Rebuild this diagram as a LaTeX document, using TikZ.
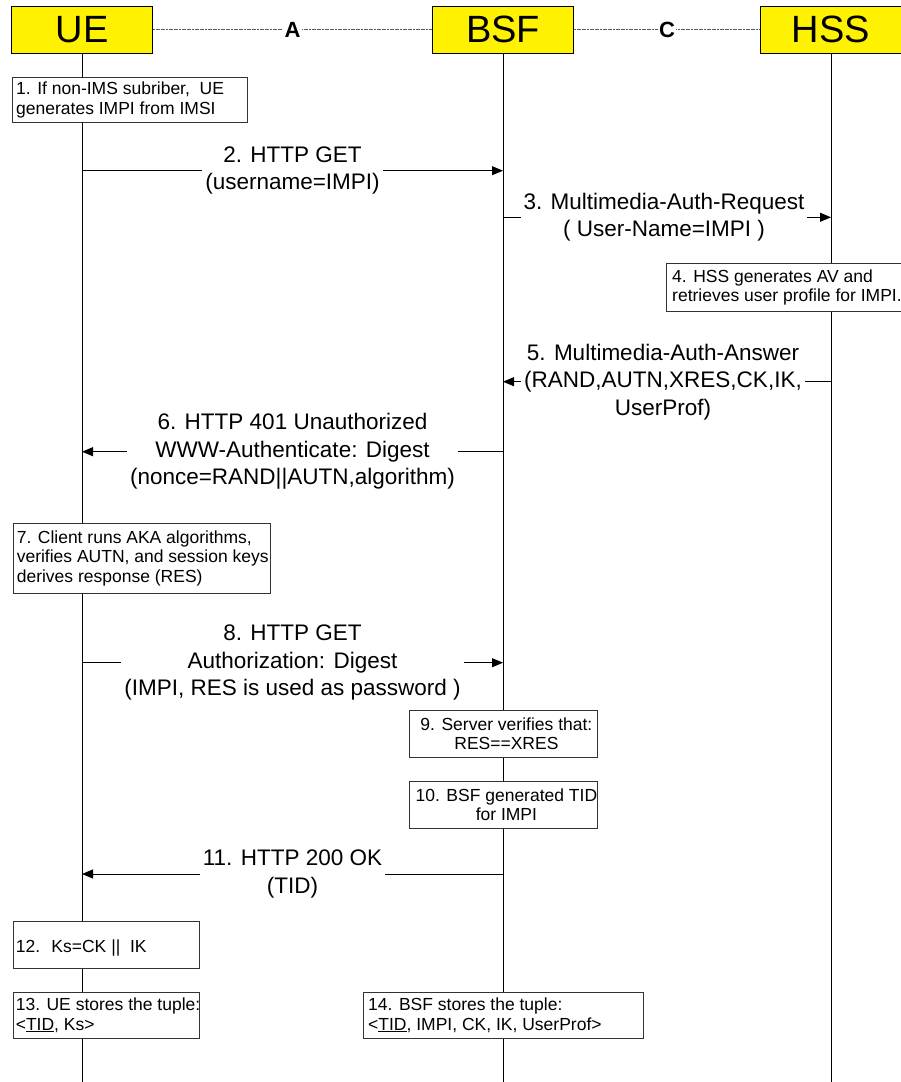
\documentclass[tikz,border=0pt]{standalone}
\usepackage{fontspec}
\setmainfont{Liberation Sans}
\usetikzlibrary{arrows.meta}
\begin{document}
\begin{tikzpicture}[x=1pt,y=-1pt,
  hdr/.style={draw=black, line width=0.8pt, fill=yellow, minimum width=141pt, minimum height=47pt, inner sep=0pt, font=\fontsize{38}{40}\selectfont},
  life/.style={line width=0.9pt, black},
  iface/.style={draw=black!65, line width=0.8pt, dash pattern=on 2pt off 0.6pt},
  ifl/.style={fill=white, inner sep=1.5pt, font=\fontsize{22}{24}\selectfont\bfseries},
  msg/.style={line width=0.9pt, -{Triangle[length=11pt,width=9pt]}},
  lbl/.style={fill=white, align=center, inner xsep=3pt, inner ysep=0pt, font=\fontsize{22.5}{27.5}\selectfont},
  note/.style={draw=black!80, line width=0.8pt, fill=white, inner sep=0pt, anchor=north west},
  ntxt/.style={align=left, inner sep=0pt, anchor=west, font=\fontsize{17.5}{19.5}\selectfont},
  ctxt/.style={align=center, inner sep=0pt, font=\fontsize{17.5}{18.5}\selectfont},
]
\useasboundingbox (0,0) rectangle (900,1082);
\fill[white] (0,0) rectangle (900,1082);

% headers
\node[hdr] (ue) at (82,29.5) {UE};
\node[hdr] (bsf) at (503,29.5) {BSF};
\node[hdr] (hss) at (831,29.5) {HSS};

% lifelines
\coordinate (ueB) at (82,1082);
\coordinate (bsfB) at (503,1082);
\coordinate (hssB) at (831,1082);
\draw[life] (ue.south) -- (ueB);
\draw[life] (bsf.south) -- (bsfB);
\draw[life] (hss.south) -- (hssB);

% interfaces
\draw[iface] (ue.east) -- (bsf.west) node[midway, ifl] (ifA) {A};
\draw[iface] (bsf.east) -- (hss.west) node[midway, ifl] (ifC) {C};

% box 1
\node[note, minimum width=235pt, minimum height=45pt] (b1) at (12,77) {};
\node[ntxt] (t1) at ([xshift=4pt]b1.west) {1. If non-IMS subriber,~ UE\\generates IMPI from IMSI};

% message 2
\coordinate (m2a) at (82,170.7);
\coordinate (m2b) at (503,170.7);
\draw[msg] (m2a) -- (m2b) node[midway, lbl] (l2) {2. HTTP GET\\(username=IMPI)};

% message 3
\coordinate (m3a) at (503,217.3);
\coordinate (m3b) at (831,217.3);
\draw[msg] (m3a) -- (m3b) node[midway, lbl, xshift=-3pt] (l3) {3. Multimedia-Auth-Request\\( User-Name=IMPI )};

% box 4
\node[note, minimum width=240pt, minimum height=48pt] (b4) at (666,263) {};
\node[ntxt] (t4) at ([xshift=6pt]b4.west) {4. HSS generates AV and\\retrieves user profile for IMPI.};

% message 5
\coordinate (m5a) at (831,381.7);
\coordinate (m5b) at (503,381.7);
\draw[msg] (m5a) -- (m5b) node[midway, lbl, xshift=-4pt] (l5) {5. Multimedia-Auth-Answer\\(RAND,AUTN,XRES,CK,IK,\\UserProf)};

% message 6
\coordinate (m6a) at (503,451.7);
\coordinate (m6b) at (82,451.7);
\draw[msg] (m6a) -- (m6b) node[midway, lbl] (l6) {6. HTTP 401 Unauthorized\\WWW-Authenticate: Digest\\(nonce=RAND||AUTN,algorithm)};

% box 7
\node[note, minimum width=257.4pt, minimum height=70.3pt] (b7) at (12.6,522.7) {};
\node[ntxt] (t7) at ([xshift=4pt]b7.west) {7. Client runs AKA algorithms,\\verifies AUTN, and session keys\\derives response (RES)};

% message 8
\coordinate (m8a) at (82,662.7);
\coordinate (m8b) at (503,662.7);
\draw[msg] (m8a) -- (m8b) node[midway, lbl] (l8) {8. HTTP GET\\Authorization: Digest\\(IMPI, RES is used as password )};

% box 9
\node[note, minimum width=188pt, minimum height=46.7pt] (b9) at (409,710) {};
\node[ctxt] (t9) at ([xshift=3pt]b9.center) {9. Server verifies that:\\RES==XRES};

% box 10
\node[note, minimum width=188pt, minimum height=47pt] (b10) at (409,780.7) {};
\node[ctxt] (t10) at ([xshift=3pt]b10.center) {10. BSF generated TID\\for IMPI};

% message 11
\coordinate (m11a) at (503,874);
\coordinate (m11b) at (82,874);
\draw[msg] (m11a) -- (m11b) node[midway, lbl] (l11) {11. HTTP 200 OK\\(TID)};

% box 12
\node[note, minimum width=186.4pt, minimum height=46.7pt] (b12) at (12.6,921) {};
\node[ntxt] (t12) at ([xshift=3pt,yshift=-3pt]b12.west) {12.~ Ks=CK ||~ IK};

% box 13
\node[note, minimum width=186.4pt, minimum height=46.3pt] (b13) at (12.6,991.7) {};
\node[ntxt] (t13) at ([xshift=3pt]b13.west) {13. UE stores the tuple:\\<\underline{TID}, Ks>};

% box 14
\node[note, minimum width=280pt, minimum height=46.3pt] (b14) at (363,991.7) {};
\node[ntxt] (t14) at ([xshift=5pt]b14.west) {14. BSF stores the tuple:\\<\underline{TID}, IMPI, CK, IK, UserProf>};
\end{tikzpicture}
\end{document}
